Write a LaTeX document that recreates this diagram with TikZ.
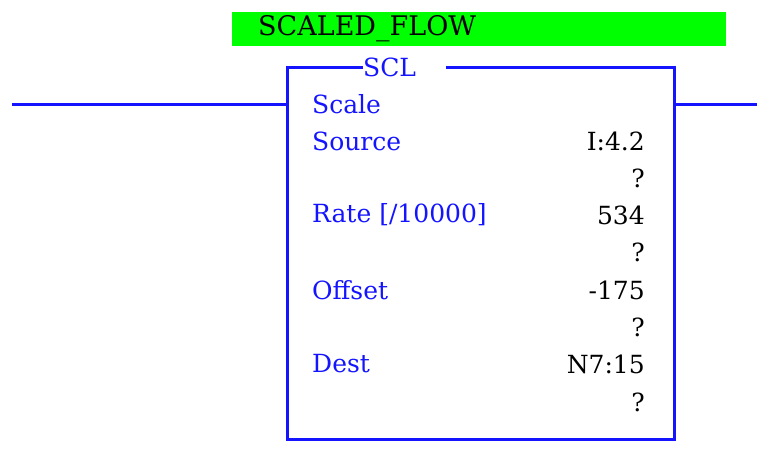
\documentclass[tikz,border=0pt]{standalone}
\usepackage{fontspec}
\setmainfont{DejaVu Serif}
\definecolor{ladblue}{RGB}{20,20,255}
\definecolor{taggreen}{RGB}{0,255,0}
\tikzset{
  rung/.style={draw=ladblue, line width=3pt},
  lbl/.style={anchor=west, text=ladblue, font=\fontsize{25}{28}\selectfont, inner sep=0pt},
  val/.style={anchor=east, text=black, font=\fontsize{25}{28}\selectfont, inner sep=0pt},
}
\begin{document}
\begin{tikzpicture}[x=1pt,y=-1pt]
\useasboundingbox (0,0) rectangle (757,460);
\node (tag) [fill=taggreen, minimum width=494pt, minimum height=34pt, inner sep=0pt] at (479,29) {};
\node (tagtxt) [anchor=west, inner sep=0pt, font=\fontsize{27}{30}\selectfont] at (258,29) {SCALED\_FLOW};
\node (box) [rung, fill=white, minimum width=387pt, minimum height=372pt, inner sep=0pt] at (480.5,253) {};
\node (scl) [anchor=west, fill=white, text=ladblue, inner sep=0pt, text width=83pt, align=left, minimum height=20pt, font=\fontsize{25}{28}\selectfont] at (363,67) {SCL};
\coordinate (lin) at (12,104);
\coordinate (rout) at (757,104);
\draw[rung] (lin) -- (lin -| box.west);
\draw[rung] (box.east |- rout) -- (rout);
\node (l1) [lbl] at (312,104) {Scale};
\node (l2) [lbl] at (312,141) {Source};
\node (l3) [lbl] at (312,215) {Rate [/10000]};
\node (l4) [lbl] at (312,290) {Offset};
\node (l5) [lbl] at (312,364) {Dest};
\node (v1) [val] at (645,141) {I:4.2};
\node (q1) [val] at (645,178) {?};
\node (v2) [val] at (645,215) {534};
\node (q2) [val] at (645,252) {?};
\node (v3) [val] at (645,290) {-175};
\node (q3) [val] at (645,327) {?};
\node (v4) [val] at (645,364) {N7:15};
\node (q4) [val] at (645,402) {?};
\end{tikzpicture}
\end{document}
